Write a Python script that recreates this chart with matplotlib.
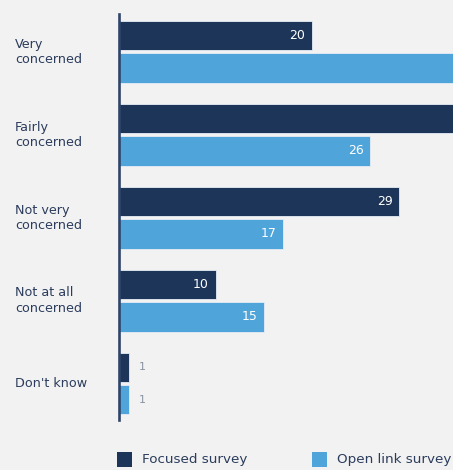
import matplotlib
matplotlib.use("Agg")
import matplotlib.pyplot as plt
from matplotlib.patches import Rectangle
import numpy as np

categories = ["Very\nconcerned", "Fairly\nconcerned", "Not very\nconcerned",
              "Not at all\nconcerned", "Don't know"]
focused = [20, 40, 29, 10, 1]
open_link = [41, 26, 17, 15, 1]
series_names = ["Focused survey", "Open link survey"]

NAVY = "#1d3558"
BLUE = "#4fa4da"
BG = "#f2f2f2"
TEXT = "#2b3c5c"
GREY = "#8a93a3"

W, H = 453, 470
fig = plt.figure(figsize=(W / 100, H / 100), dpi=100, facecolor=BG)
ax = fig.add_axes([119 / W, 1 - 420 / H, 334 / W, 406 / H], facecolor=BG)

y = np.arange(len(categories))
off = 0.196
bh = 0.355
ax.barh(y - off, focused, height=bh, color=NAVY, edgecolor="#e6edf5", linewidth=0.6)
ax.barh(y + off, open_link, height=bh, color=BLUE, edgecolor="#e6edf5", linewidth=0.6)

ax.set_xlim(0, 334 / 9.67)
ax.set_ylim(4.44, -0.455)

for s in ["top", "right", "bottom"]:
    ax.spines[s].set_visible(False)
ax.spines["left"].set_color("#2f4468")
ax.spines["left"].set_linewidth(1.9)
ax.set_xticks([])
ax.set_yticks([])

# value labels: inside the bar end, or just past it for very short bars
for vals, ys in ((focused, y - off), (open_link, y + off)):
    for v, yy in zip(vals, ys):
        if v >= 5:
            ax.annotate(str(v), (v, yy), xytext=(-5, 0), textcoords="offset points",
                        ha="right", va="center", color="white", fontsize=9,
                        annotation_clip=True, clip_on=True)
        else:
            ax.annotate(str(v), (v, yy), xytext=(7.5, 0), textcoords="offset points",
                        ha="left", va="center", color=GREY, fontsize=8)

# category labels at the left
trans = matplotlib.transforms.blended_transform_factory(fig.transFigure, ax.transData)
for c, yy in zip(categories, y):
    ax.text(15 / W, yy, c, transform=trans, ha="left", va="center",
            fontsize=9.2, color=TEXT, linespacing=1.22, clip_on=False)

# legend
for x0, col, name in ((117, NAVY, series_names[0]), (312, BLUE, series_names[1])):
    fig.patches.append(Rectangle((x0 / W, 1 - 467 / H), 15 / W, 15 / H,
                                 transform=fig.transFigure, facecolor=col,
                                 edgecolor="none"))
    fig.text((x0 + 25) / W, 1 - 460 / H, name, ha="left", va="center",
             fontsize=9.7, color=TEXT)

fig.savefig("out.png", dpi=100, facecolor=BG)
